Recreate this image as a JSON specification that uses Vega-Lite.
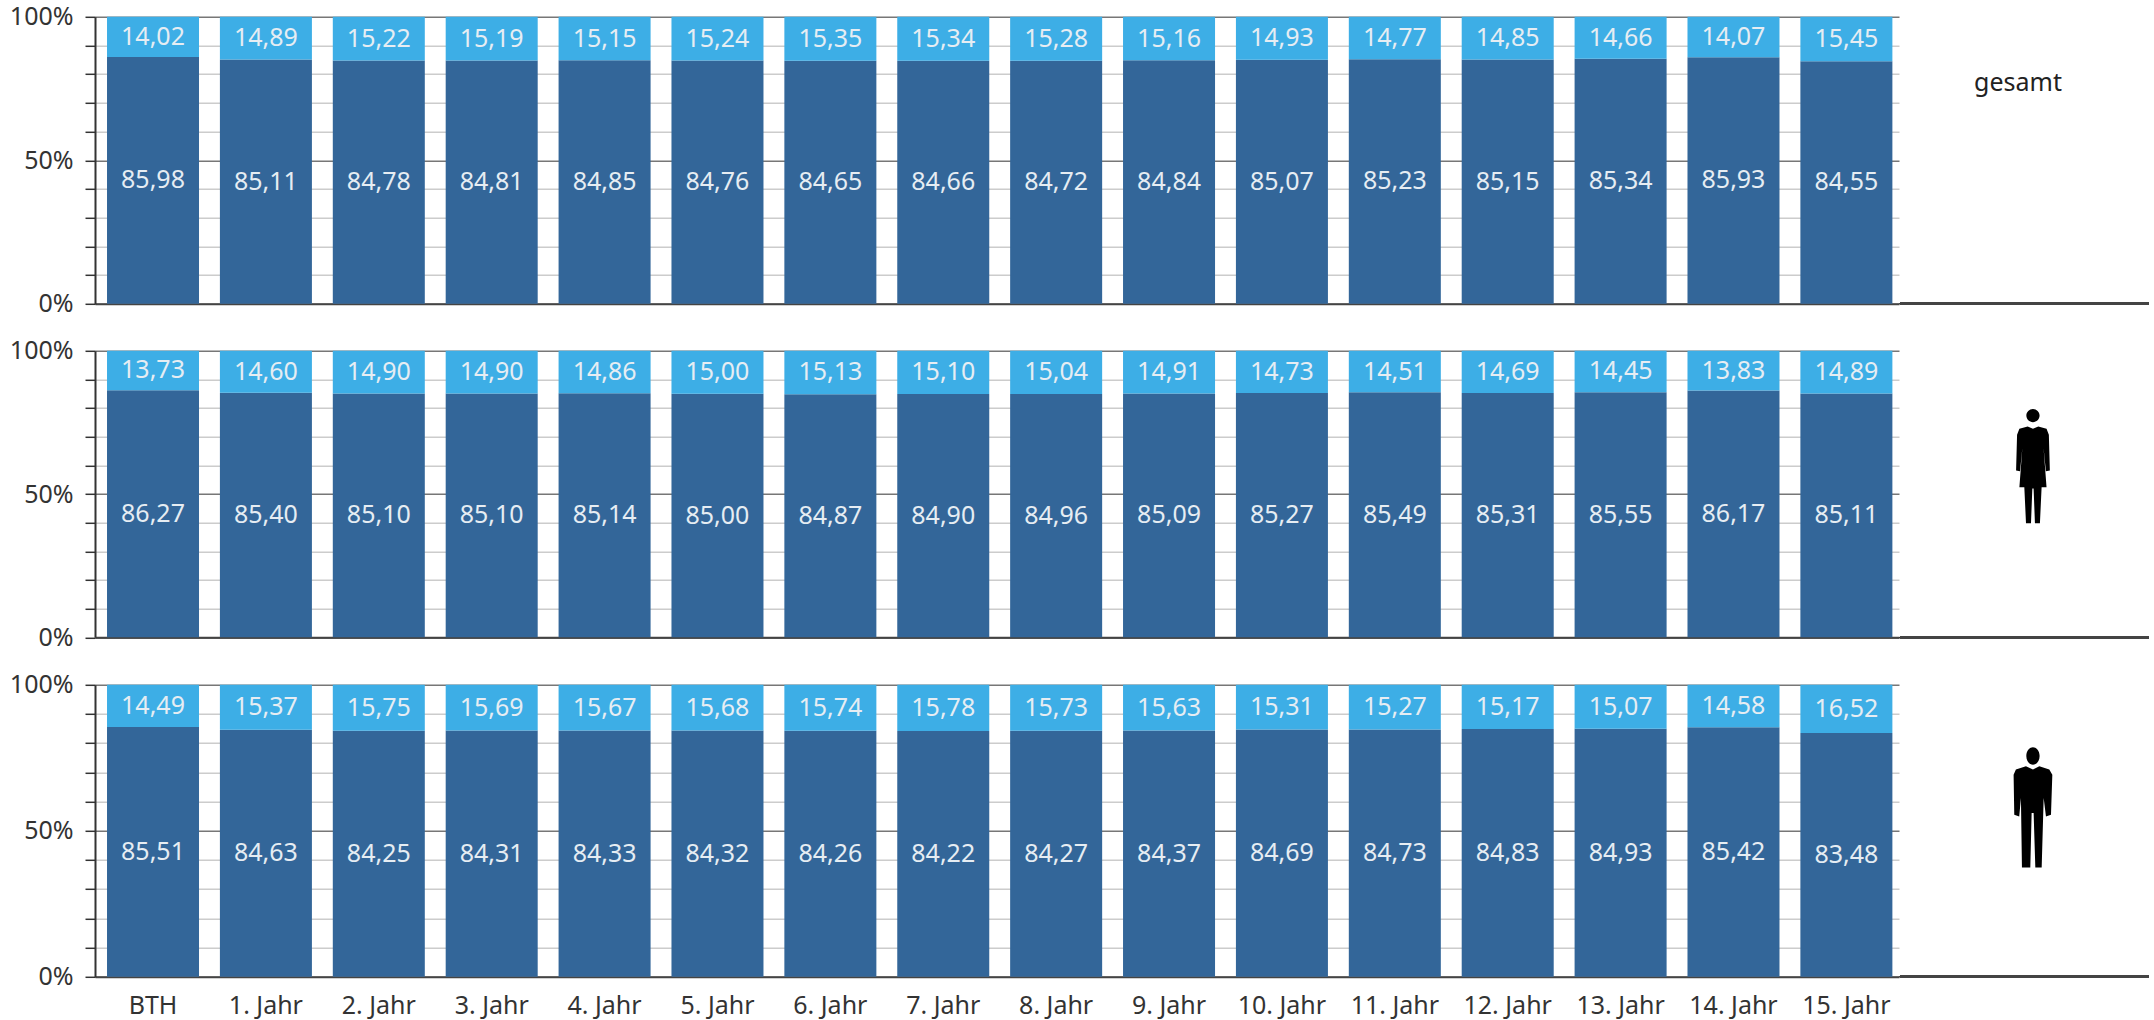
{"$schema":"https://vega.github.io/schema/vega-lite/v6.json","background":"#ffffff","padding":{"left":9,"top":4.8,"right":0,"bottom":0},"config":{"view":{"stroke":null},"locale":{"number":{"decimal":",","thousands":".","grouping":[3],"currency":["","€"]}},"font":"Noto Sans"},"datasets":{"werte":[
{"panel":"gesamt","jahr":"BTH","reihe":"unten","wert":85.98},{"panel":"gesamt","jahr":"BTH","reihe":"oben","wert":14.02},
{"panel":"gesamt","jahr":"1. Jahr","reihe":"unten","wert":85.11},{"panel":"gesamt","jahr":"1. Jahr","reihe":"oben","wert":14.89},
{"panel":"gesamt","jahr":"2. Jahr","reihe":"unten","wert":84.78},{"panel":"gesamt","jahr":"2. Jahr","reihe":"oben","wert":15.22},
{"panel":"gesamt","jahr":"3. Jahr","reihe":"unten","wert":84.81},{"panel":"gesamt","jahr":"3. Jahr","reihe":"oben","wert":15.19},
{"panel":"gesamt","jahr":"4. Jahr","reihe":"unten","wert":84.85},{"panel":"gesamt","jahr":"4. Jahr","reihe":"oben","wert":15.15},
{"panel":"gesamt","jahr":"5. Jahr","reihe":"unten","wert":84.76},{"panel":"gesamt","jahr":"5. Jahr","reihe":"oben","wert":15.24},
{"panel":"gesamt","jahr":"6. Jahr","reihe":"unten","wert":84.65},{"panel":"gesamt","jahr":"6. Jahr","reihe":"oben","wert":15.35},
{"panel":"gesamt","jahr":"7. Jahr","reihe":"unten","wert":84.66},{"panel":"gesamt","jahr":"7. Jahr","reihe":"oben","wert":15.34},
{"panel":"gesamt","jahr":"8. Jahr","reihe":"unten","wert":84.72},{"panel":"gesamt","jahr":"8. Jahr","reihe":"oben","wert":15.28},
{"panel":"gesamt","jahr":"9. Jahr","reihe":"unten","wert":84.84},{"panel":"gesamt","jahr":"9. Jahr","reihe":"oben","wert":15.16},
{"panel":"gesamt","jahr":"10. Jahr","reihe":"unten","wert":85.07},{"panel":"gesamt","jahr":"10. Jahr","reihe":"oben","wert":14.93},
{"panel":"gesamt","jahr":"11. Jahr","reihe":"unten","wert":85.23},{"panel":"gesamt","jahr":"11. Jahr","reihe":"oben","wert":14.77},
{"panel":"gesamt","jahr":"12. Jahr","reihe":"unten","wert":85.15},{"panel":"gesamt","jahr":"12. Jahr","reihe":"oben","wert":14.85},
{"panel":"gesamt","jahr":"13. Jahr","reihe":"unten","wert":85.34},{"panel":"gesamt","jahr":"13. Jahr","reihe":"oben","wert":14.66},
{"panel":"gesamt","jahr":"14. Jahr","reihe":"unten","wert":85.93},{"panel":"gesamt","jahr":"14. Jahr","reihe":"oben","wert":14.07},
{"panel":"gesamt","jahr":"15. Jahr","reihe":"unten","wert":84.55},{"panel":"gesamt","jahr":"15. Jahr","reihe":"oben","wert":15.45},
{"panel":"frauen","jahr":"BTH","reihe":"unten","wert":86.27},{"panel":"frauen","jahr":"BTH","reihe":"oben","wert":13.73},
{"panel":"frauen","jahr":"1. Jahr","reihe":"unten","wert":85.40},{"panel":"frauen","jahr":"1. Jahr","reihe":"oben","wert":14.60},
{"panel":"frauen","jahr":"2. Jahr","reihe":"unten","wert":85.10},{"panel":"frauen","jahr":"2. Jahr","reihe":"oben","wert":14.90},
{"panel":"frauen","jahr":"3. Jahr","reihe":"unten","wert":85.10},{"panel":"frauen","jahr":"3. Jahr","reihe":"oben","wert":14.90},
{"panel":"frauen","jahr":"4. Jahr","reihe":"unten","wert":85.14},{"panel":"frauen","jahr":"4. Jahr","reihe":"oben","wert":14.86},
{"panel":"frauen","jahr":"5. Jahr","reihe":"unten","wert":85.00},{"panel":"frauen","jahr":"5. Jahr","reihe":"oben","wert":15.00},
{"panel":"frauen","jahr":"6. Jahr","reihe":"unten","wert":84.87},{"panel":"frauen","jahr":"6. Jahr","reihe":"oben","wert":15.13},
{"panel":"frauen","jahr":"7. Jahr","reihe":"unten","wert":84.90},{"panel":"frauen","jahr":"7. Jahr","reihe":"oben","wert":15.10},
{"panel":"frauen","jahr":"8. Jahr","reihe":"unten","wert":84.96},{"panel":"frauen","jahr":"8. Jahr","reihe":"oben","wert":15.04},
{"panel":"frauen","jahr":"9. Jahr","reihe":"unten","wert":85.09},{"panel":"frauen","jahr":"9. Jahr","reihe":"oben","wert":14.91},
{"panel":"frauen","jahr":"10. Jahr","reihe":"unten","wert":85.27},{"panel":"frauen","jahr":"10. Jahr","reihe":"oben","wert":14.73},
{"panel":"frauen","jahr":"11. Jahr","reihe":"unten","wert":85.49},{"panel":"frauen","jahr":"11. Jahr","reihe":"oben","wert":14.51},
{"panel":"frauen","jahr":"12. Jahr","reihe":"unten","wert":85.31},{"panel":"frauen","jahr":"12. Jahr","reihe":"oben","wert":14.69},
{"panel":"frauen","jahr":"13. Jahr","reihe":"unten","wert":85.55},{"panel":"frauen","jahr":"13. Jahr","reihe":"oben","wert":14.45},
{"panel":"frauen","jahr":"14. Jahr","reihe":"unten","wert":86.17},{"panel":"frauen","jahr":"14. Jahr","reihe":"oben","wert":13.83},
{"panel":"frauen","jahr":"15. Jahr","reihe":"unten","wert":85.11},{"panel":"frauen","jahr":"15. Jahr","reihe":"oben","wert":14.89},
{"panel":"maenner","jahr":"BTH","reihe":"unten","wert":85.51},{"panel":"maenner","jahr":"BTH","reihe":"oben","wert":14.49},
{"panel":"maenner","jahr":"1. Jahr","reihe":"unten","wert":84.63},{"panel":"maenner","jahr":"1. Jahr","reihe":"oben","wert":15.37},
{"panel":"maenner","jahr":"2. Jahr","reihe":"unten","wert":84.25},{"panel":"maenner","jahr":"2. Jahr","reihe":"oben","wert":15.75},
{"panel":"maenner","jahr":"3. Jahr","reihe":"unten","wert":84.31},{"panel":"maenner","jahr":"3. Jahr","reihe":"oben","wert":15.69},
{"panel":"maenner","jahr":"4. Jahr","reihe":"unten","wert":84.33},{"panel":"maenner","jahr":"4. Jahr","reihe":"oben","wert":15.67},
{"panel":"maenner","jahr":"5. Jahr","reihe":"unten","wert":84.32},{"panel":"maenner","jahr":"5. Jahr","reihe":"oben","wert":15.68},
{"panel":"maenner","jahr":"6. Jahr","reihe":"unten","wert":84.26},{"panel":"maenner","jahr":"6. Jahr","reihe":"oben","wert":15.74},
{"panel":"maenner","jahr":"7. Jahr","reihe":"unten","wert":84.22},{"panel":"maenner","jahr":"7. Jahr","reihe":"oben","wert":15.78},
{"panel":"maenner","jahr":"8. Jahr","reihe":"unten","wert":84.27},{"panel":"maenner","jahr":"8. Jahr","reihe":"oben","wert":15.73},
{"panel":"maenner","jahr":"9. Jahr","reihe":"unten","wert":84.37},{"panel":"maenner","jahr":"9. Jahr","reihe":"oben","wert":15.63},
{"panel":"maenner","jahr":"10. Jahr","reihe":"unten","wert":84.69},{"panel":"maenner","jahr":"10. Jahr","reihe":"oben","wert":15.31},
{"panel":"maenner","jahr":"11. Jahr","reihe":"unten","wert":84.73},{"panel":"maenner","jahr":"11. Jahr","reihe":"oben","wert":15.27},
{"panel":"maenner","jahr":"12. Jahr","reihe":"unten","wert":84.83},{"panel":"maenner","jahr":"12. Jahr","reihe":"oben","wert":15.17},
{"panel":"maenner","jahr":"13. Jahr","reihe":"unten","wert":84.93},{"panel":"maenner","jahr":"13. Jahr","reihe":"oben","wert":15.07},
{"panel":"maenner","jahr":"14. Jahr","reihe":"unten","wert":85.42},{"panel":"maenner","jahr":"14. Jahr","reihe":"oben","wert":14.58},
{"panel":"maenner","jahr":"15. Jahr","reihe":"unten","wert":83.48},{"panel":"maenner","jahr":"15. Jahr","reihe":"oben","wert":16.52}
]},"data":{"name":"werte"},"spacing":22,"vconcat":[
{"spacing":0,"hconcat":[
{"width":1804,"height":287,"transform":[{"filter":"datum.panel==='gesamt'"}],"encoding":{"x":{"field":"jahr","type":"nominal","sort":null,"scale":{"paddingInner":0.185,"paddingOuter":0.0825,"align":0.645},"axis":{"title":null,"labels":false,"ticks":false,"domain":true,"domainColor":"#444444","domainWidth":2}}},"layer":[
{"mark":{"type":"bar"},"encoding":{"y":{"field":"wert","type":"quantitative","stack":"zero","scale":{"domain":[0,100],"nice":false},"axis":{"title":null,"values":[0,10,20,30,40,50,60,70,80,90,100],"labelExpr":"datum.value%50===0?datum.value+'%':''","labelFontSize":25,"labelColor":"#333333","labelPadding":12,"labelOverlap":false,"tickSize":10,"tickColor":"#333333","tickWidth":1.5,"domainColor":"#333333","domainWidth":2,"grid":true,"gridColor":{"condition":{"test":"datum.value%50===0","value":"#777777"},"value":"#cccccc"},"gridWidth":1.5}},"color":{"field":"reihe","type":"nominal","scale":{"domain":["unten","oben"],"range":["#336699","#3DAEE6"]},"legend":null},"order":{"field":"reihe","sort":"descending"}}},
{"mark":{"type":"text","fontSize":25,"color":"#e6edf3"},"encoding":{"y":{"field":"wert","type":"quantitative","stack":"zero","bandPosition":0.5,"axis":{"title":null,"values":[0,10,20,30,40,50,60,70,80,90,100],"labelExpr":"datum.value%50===0?datum.value+'%':''","labelFontSize":25,"labelColor":"#333333","labelPadding":12,"labelOverlap":false,"tickSize":10,"tickColor":"#333333","tickWidth":1.5,"domainColor":"#333333","domainWidth":2,"grid":true,"gridColor":{"condition":{"test":"datum.value%50===0","value":"#777777"},"value":"#cccccc"},"gridWidth":1.5}},"text":{"field":"wert","type":"quantitative","format":".2f"},"order":{"field":"reihe","sort":"descending"}}}
]},
{"width":249,"height":287,"layer":[
{"mark":{"type":"rule","color":"#444444","strokeWidth":2},"encoding":{"y":{"datum":0,"scale":{"domain":[0,100],"nice":false},"axis":null}}},
{"data":{"values":[{"name":"gesamt"}]},"mark":{"type":"text","fontSize":25,"color":"#222222"},"encoding":{"text":{"field":"name"},"x":{"datum":47.4,"scale":{"domain":[0,100]},"axis":null},"y":{"datum":77}}}
]}
]},
{"spacing":0,"hconcat":[
{"width":1804,"height":286.5,"transform":[{"filter":"datum.panel==='frauen'"}],"encoding":{"x":{"field":"jahr","type":"nominal","sort":null,"scale":{"paddingInner":0.185,"paddingOuter":0.0825,"align":0.645},"axis":{"title":null,"labels":false,"ticks":false,"domain":true,"domainColor":"#444444","domainWidth":2}}},"layer":[
{"mark":{"type":"bar"},"encoding":{"y":{"field":"wert","type":"quantitative","stack":"zero","scale":{"domain":[0,100],"nice":false},"axis":{"title":null,"values":[0,10,20,30,40,50,60,70,80,90,100],"labelExpr":"datum.value%50===0?datum.value+'%':''","labelFontSize":25,"labelColor":"#333333","labelPadding":12,"labelOverlap":false,"tickSize":10,"tickColor":"#333333","tickWidth":1.5,"domainColor":"#333333","domainWidth":2,"grid":true,"gridColor":{"condition":{"test":"datum.value%50===0","value":"#777777"},"value":"#cccccc"},"gridWidth":1.5}},"color":{"field":"reihe","type":"nominal","scale":{"domain":["unten","oben"],"range":["#336699","#3DAEE6"]},"legend":null},"order":{"field":"reihe","sort":"descending"}}},
{"mark":{"type":"text","fontSize":25,"color":"#e6edf3"},"encoding":{"y":{"field":"wert","type":"quantitative","stack":"zero","bandPosition":0.5,"axis":{"title":null,"values":[0,10,20,30,40,50,60,70,80,90,100],"labelExpr":"datum.value%50===0?datum.value+'%':''","labelFontSize":25,"labelColor":"#333333","labelPadding":12,"labelOverlap":false,"tickSize":10,"tickColor":"#333333","tickWidth":1.5,"domainColor":"#333333","domainWidth":2,"grid":true,"gridColor":{"condition":{"test":"datum.value%50===0","value":"#777777"},"value":"#cccccc"},"gridWidth":1.5}},"text":{"field":"wert","type":"quantitative","format":".2f"},"order":{"field":"reihe","sort":"descending"}}}
]},
{"width":249,"height":286.5,"layer":[
{"mark":{"type":"rule","color":"#444444","strokeWidth":2},"encoding":{"y":{"datum":0,"scale":{"domain":[0,100],"nice":false},"axis":null}}},
{"data":{"values":[{"name":"Frauen"}]},"mark":{"type":"point","filled":true,"opacity":1,"color":"#000000","size":13456,"shape":"M-.114,-.874A.114,.114 0 1,1 .114,-.874A.114,.114 0 1,1 -.114,-.874ZM-.091,-.686L-.234,-.646L-.274,-.543L-.291,.074L-.223,.086L-.183,-.314L-.234,.36L-.149,.36L-.12,.983L-.034,.983L-.011,.383L.011,.383L.034,.983L.12,.983L.149,.36L.234,.36L.183,-.314L.223,.086L.291,.074L.274,-.543L.234,-.646L.091,-.686L0,-.646Z"},"encoding":{"x":{"datum":53.4,"scale":{"domain":[0,100]},"axis":null},"y":{"datum":59.7}}}
]}
]},
{"spacing":0,"hconcat":[
{"width":1804,"height":292,"transform":[{"filter":"datum.panel==='maenner'"}],"encoding":{"x":{"field":"jahr","type":"nominal","sort":null,"scale":{"paddingInner":0.185,"paddingOuter":0.0825,"align":0.645},"axis":{"title":null,"labelAngle":0,"labelFontSize":25,"labelColor":"#333333","labelPadding":17,"ticks":false,"domain":true,"domainColor":"#444444","domainWidth":2}}},"layer":[
{"mark":{"type":"bar"},"encoding":{"y":{"field":"wert","type":"quantitative","stack":"zero","scale":{"domain":[0,100],"nice":false},"axis":{"title":null,"values":[0,10,20,30,40,50,60,70,80,90,100],"labelExpr":"datum.value%50===0?datum.value+'%':''","labelFontSize":25,"labelColor":"#333333","labelPadding":12,"labelOverlap":false,"tickSize":10,"tickColor":"#333333","tickWidth":1.5,"domainColor":"#333333","domainWidth":2,"grid":true,"gridColor":{"condition":{"test":"datum.value%50===0","value":"#777777"},"value":"#cccccc"},"gridWidth":1.5}},"color":{"field":"reihe","type":"nominal","scale":{"domain":["unten","oben"],"range":["#336699","#3DAEE6"]},"legend":null},"order":{"field":"reihe","sort":"descending"}}},
{"mark":{"type":"text","fontSize":25,"color":"#e6edf3"},"encoding":{"y":{"field":"wert","type":"quantitative","stack":"zero","bandPosition":0.5,"axis":{"title":null,"values":[0,10,20,30,40,50,60,70,80,90,100],"labelExpr":"datum.value%50===0?datum.value+'%':''","labelFontSize":25,"labelColor":"#333333","labelPadding":12,"labelOverlap":false,"tickSize":10,"tickColor":"#333333","tickWidth":1.5,"domainColor":"#333333","domainWidth":2,"grid":true,"gridColor":{"condition":{"test":"datum.value%50===0","value":"#777777"},"value":"#cccccc"},"gridWidth":1.5}},"text":{"field":"wert","type":"quantitative","format":".2f"},"order":{"field":"reihe","sort":"descending"}}}
]},
{"width":249,"height":292,"layer":[
{"mark":{"type":"rule","color":"#444444","strokeWidth":2},"encoding":{"y":{"datum":0,"scale":{"domain":[0,100],"nice":false},"axis":null}}},
{"data":{"values":[{"name":"Männer"}]},"mark":{"type":"point","filled":true,"opacity":1,"color":"#000000","size":14641,"shape":"M-.11,-.856C-.11,-.95 -.05,-1 0,-1C.05,-1 .11,-.95 .11,-.856C.11,-.76 .05,-.71 0,-.71C-.05,-.71 -.11,-.76 -.11,-.856ZM-.116,-.685L-.282,-.63L-.32,-.547L-.309,.116L-.227,.144L-.199,-.16L-.182,.989L-.044,.989L-.022,.088L.011,.088L.039,.989L.144,.989L.177,-.16L.215,.144L.298,.116L.32,-.547L.27,-.63L.105,-.685L0,-.63Z"},"encoding":{"x":{"datum":53.4,"scale":{"domain":[0,100]},"axis":null},"y":{"datum":57.9}}}
]}
]}
]}
